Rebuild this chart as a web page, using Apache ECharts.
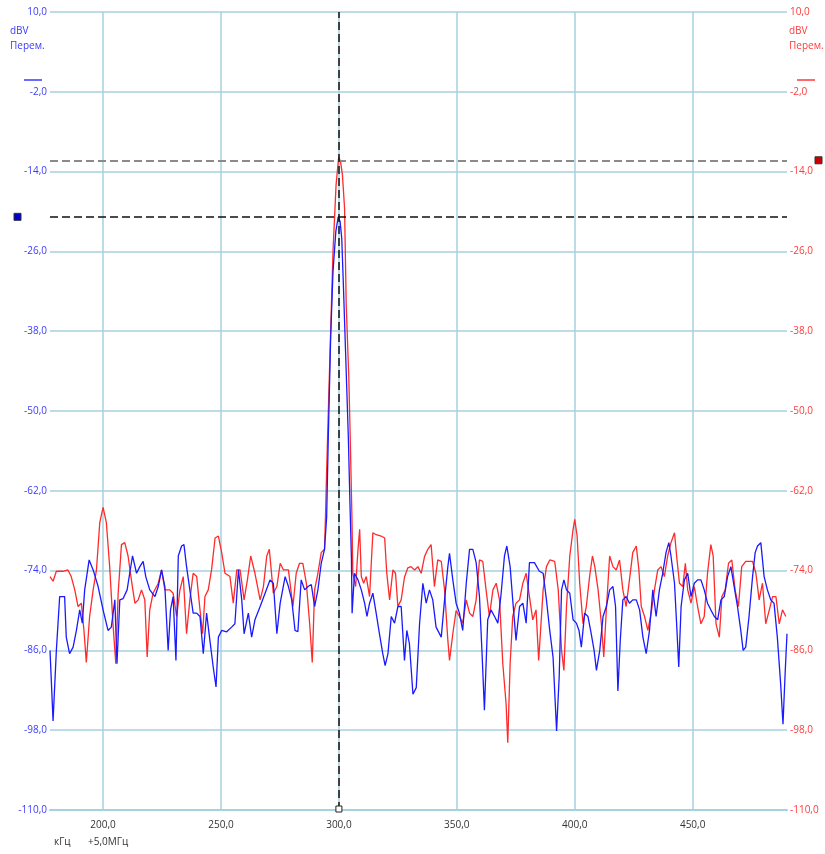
<!DOCTYPE html>
<html>
<head>
<meta charset="utf-8">
<script src="https://cdn.jsdelivr.net/npm/echarts@6/dist/echarts.min.js"></script>
<style>
html,body{margin:0;padding:0;background:#fff;}
#chart{width:825px;height:854px;}
</style>
</head>
<body>
<div id="chart"></div>
<script>
// ---- Data (kHz offset from 5,0 MHz ; dBV) ----
const freqBlue = [177.5,178.8,180.2,181.6,183.7,184.4,185.8,187.3,188.7,190.1,191.2,192.2,194.1,195.8,197.9,200.0,202.1,203.5,205.0,205.9,207.1,208.5,210.2,211.3,212.5,214.2,215.6,217.0,218.1,219.8,222.0,223.4,224.8,226.2,227.6,228.6,229.7,230.9,231.9,233.3,234.3,235.4,236.8,238.2,239.7,241.1,242.5,243.9,245.3,246.7,247.9,248.9,250.3,252.4,254.5,255.9,257.4,258.8,259.8,261.6,263.0,264.4,266.6,268.7,270.8,272.2,273.7,275.1,277.2,278.6,280.0,281.4,282.6,284.0,285.5,286.9,288.3,289.7,291.1,292.5,293.9,294.8,295.5,296.5,297.5,298.7,299.7,300.5,301.2,301.8,303.0,304.0,304.7,305.3,305.6,306.6,308.1,309.5,310.9,311.9,313.0,314.4,315.8,317.2,318.6,319.6,320.8,322.2,323.6,325.0,326.4,327.8,328.8,329.9,331.4,332.8,334.2,335.6,337.0,338.4,339.8,341.2,343.4,344.8,346.2,346.9,348.3,349.7,351.1,352.5,354.0,355.4,356.8,358.2,359.6,360.7,361.7,363.1,364.5,366.0,367.4,368.8,370.2,371.2,372.6,373.7,375.1,376.6,378.0,379.4,380.8,382.9,385.0,386.6,388.0,389.4,390.8,392.3,393.4,394.4,395.4,396.5,397.9,399.3,400.7,401.8,402.8,404.2,405.6,407.0,408.2,409.2,410.6,412.0,413.4,414.8,416.2,417.3,418.3,419.3,420.4,421.8,423.2,424.6,426.1,427.5,428.9,430.3,431.7,433.1,434.5,435.9,437.3,438.7,439.9,440.8,442.3,443.2,444.1,445.1,446.5,447.9,449.3,450.7,452.1,453.5,454.9,456.3,457.7,459.2,460.6,462.0,463.4,464.8,466.2,467.6,469.0,470.4,471.4,472.5,473.9,475.4,476.5,477.5,478.9,480.3,481.7,483.1,484.5,485.9,487.3,488.3,489.2,490.0];
const dbvBlue = [-86.0,-96.6,-86.0,-77.9,-77.9,-84.0,-86.5,-85.5,-83.0,-79.9,-81.9,-76.9,-72.4,-73.9,-76.4,-79.9,-83.0,-82.5,-78.4,-88.0,-78.4,-78.2,-76.9,-74.4,-71.8,-74.4,-73.4,-72.6,-74.9,-76.9,-77.9,-76.4,-73.9,-76.4,-86.0,-79.9,-77.9,-87.5,-71.8,-70.3,-70.1,-73.4,-76.9,-80.4,-80.4,-80.9,-86.5,-80.4,-84.5,-88.5,-91.5,-84.0,-83.0,-83.2,-82.5,-82.0,-73.9,-78.4,-83.5,-80.4,-84.0,-81.4,-79.4,-77.4,-75.4,-75.9,-83.5,-78.9,-74.9,-76.4,-78.4,-83.0,-83.2,-75.4,-76.9,-76.4,-76.1,-79.4,-76.9,-72.9,-70.8,-66.0,-54.0,-39.0,-29.0,-23.0,-20.8,-21.5,-24.0,-30.0,-43.0,-54.0,-64.0,-72.0,-80.4,-74.4,-75.4,-76.9,-78.9,-80.9,-78.9,-77.4,-80.4,-83.5,-86.5,-88.3,-86.5,-80.9,-81.9,-79.4,-79.4,-87.5,-83.0,-85.0,-92.6,-91.6,-82.0,-75.9,-78.9,-76.9,-78.4,-82.5,-84.0,-78.4,-73.4,-71.4,-75.4,-78.9,-80.4,-83.0,-75.9,-70.8,-70.8,-72.8,-77.9,-86.5,-95.0,-81.4,-79.9,-80.9,-81.9,-77.4,-71.8,-70.3,-73.4,-78.4,-84.5,-79.4,-78.9,-81.9,-72.8,-72.8,-74.1,-74.4,-78.4,-83.0,-87.0,-98.1,-90.0,-76.9,-75.4,-76.9,-77.4,-81.4,-81.9,-83.0,-85.5,-80.4,-80.9,-83.5,-86.0,-89.0,-86.0,-80.9,-79.4,-76.9,-76.4,-79.4,-92.1,-84.5,-78.4,-77.9,-78.9,-78.4,-78.4,-79.9,-84.0,-86.5,-83.0,-76.9,-80.9,-76.9,-74.4,-71.3,-69.8,-71.8,-75.9,-82.0,-88.5,-79.4,-75.4,-74.4,-77.9,-75.9,-75.4,-75.4,-76.9,-78.9,-79.9,-80.9,-81.4,-78.4,-77.9,-74.9,-73.4,-76.4,-79.4,-83.0,-86.0,-85.5,-80.9,-74.9,-71.3,-70.3,-69.8,-74.9,-76.9,-78.4,-78.9,-84.0,-91.0,-97.1,-89.5,-83.5];

const freqRed = [177.5,178.8,180.2,183.0,185.1,186.5,188.0,189.4,190.8,191.9,192.9,194.3,195.8,197.2,198.6,200.0,201.4,202.8,204.2,205.4,206.4,207.8,209.2,210.6,212.0,213.5,214.9,216.3,217.7,218.7,219.8,221.2,223.4,224.8,226.2,228.3,229.7,231.2,232.6,234.0,235.4,236.8,238.2,239.7,241.1,242.2,243.2,244.6,246.0,247.5,248.9,250.3,251.7,253.8,255.2,256.7,258.1,259.8,261.2,262.6,264.4,266.6,268.0,269.4,270.5,272.2,273.7,275.1,276.5,278.6,280.5,281.9,283.3,284.7,286.2,287.6,288.7,289.7,291.1,292.5,293.9,294.3,294.8,295.6,296.5,297.5,298.8,299.9,300.7,301.5,302.4,303.1,304.2,304.8,305.5,305.9,307.1,308.1,308.8,309.5,310.5,311.6,313.0,314.4,315.8,317.9,319.4,320.3,321.5,322.9,324.0,325.0,326.4,327.8,329.2,330.6,332.1,333.5,334.9,336.3,337.7,339.1,340.5,341.9,343.4,344.8,346.2,346.9,348.3,349.7,351.1,352.5,354.0,355.4,356.8,358.2,359.6,361.0,362.4,363.8,365.3,366.7,368.1,369.5,370.9,371.6,372.6,373.7,375.1,376.6,378.0,379.4,380.8,382.2,383.6,384.7,386.6,388.0,389.4,391.5,393.0,394.4,395.4,396.5,397.9,399.3,400.0,401.0,402.1,403.5,404.9,406.3,407.5,408.5,409.9,411.3,412.3,413.4,414.8,416.2,417.6,419.0,420.4,421.8,423.2,424.6,426.1,427.2,428.2,429.6,431.0,432.4,433.8,435.2,436.6,438.0,439.4,440.8,442.3,443.2,444.4,445.8,446.9,447.9,449.3,450.7,452.1,453.5,454.9,456.3,457.7,458.7,459.9,461.3,462.4,463.8,465.2,466.6,468.0,469.4,470.8,472.5,475.4,476.8,478.2,479.6,481.0,482.5,483.9,485.3,486.7,488.1,489.5];
const dbvRed = [-74.9,-75.6,-74.1,-74.1,-73.9,-74.9,-76.9,-79.4,-78.9,-83.0,-87.8,-80.9,-76.9,-73.9,-66.8,-64.5,-66.8,-73.4,-82.0,-88.0,-77.4,-70.1,-69.8,-71.8,-75.4,-78.9,-78.4,-76.9,-78.4,-87.0,-79.9,-77.4,-75.9,-73.9,-76.9,-76.9,-77.4,-80.9,-76.9,-74.9,-83.5,-78.4,-74.4,-74.9,-79.9,-83.5,-77.9,-76.9,-73.9,-69.1,-68.8,-71.3,-74.4,-74.9,-78.9,-73.9,-73.9,-78.4,-75.4,-71.8,-74.4,-78.4,-76.4,-71.8,-70.8,-77.4,-76.4,-72.9,-73.9,-73.9,-79.4,-74.4,-72.9,-72.9,-75.9,-82.0,-87.8,-76.9,-74.4,-71.3,-70.8,-66.0,-59.0,-49.0,-38.0,-26.0,-16.0,-11.8,-12.5,-14.5,-19.5,-34.0,-45.0,-54.0,-65.5,-74.4,-76.4,-70.8,-67.8,-74.9,-75.9,-74.9,-77.9,-68.3,-68.6,-68.8,-69.1,-74.4,-78.4,-73.9,-74.4,-79.4,-78.4,-75.0,-73.6,-73.4,-73.9,-73.4,-74.4,-71.9,-70.8,-70.1,-76.4,-72.4,-72.6,-76.9,-84.5,-87.5,-83.5,-80.0,-80.9,-81.9,-78.4,-80.4,-80.9,-78.4,-72.4,-72.6,-76.9,-80.9,-76.9,-75.9,-78.4,-88.0,-94.1,-99.9,-88.0,-80.9,-78.9,-78.4,-75.9,-74.4,-77.9,-81.4,-79.9,-87.5,-76.9,-73.4,-72.4,-72.6,-76.9,-86.0,-89.0,-79.4,-71.8,-67.8,-66.3,-68.8,-75.9,-82.0,-79.4,-74.9,-71.8,-73.4,-76.9,-82.0,-87.0,-79.9,-71.8,-73.4,-73.9,-72.4,-76.9,-79.4,-75.4,-71.3,-70.3,-73.9,-79.4,-80.9,-83.0,-80.4,-76.9,-73.9,-73.4,-74.9,-71.8,-69.8,-68.3,-71.8,-75.9,-76.4,-72.9,-76.9,-78.9,-76.4,-79.4,-82.0,-80.9,-74.4,-70.1,-71.8,-82.0,-84.0,-77.9,-76.9,-72.9,-72.4,-76.9,-79.4,-73.4,-72.6,-72.6,-74.4,-78.4,-75.9,-82.0,-79.9,-77.9,-77.9,-82.0,-79.9,-80.9];

// markers
const markerFreq = 300.0;      // vertical cursor, kHz
const markerRedLevel = -12.3;  // dBV (grey dashed, red marker)
const markerBlueLevel = -20.8; // dBV (black dashed, blue marker)

// axis labels/texts
const yAxisUnit = 'dBV';
const yAxisMode = 'Перем.';
const xUnit = 'кГц';
const xOffset = '+5,0МГц';

const fmt = v => v.toFixed(1).replace('.', ',');
const zip = (xs, ys) => xs.map((x, i) => [x, ys[i]]);

const FONT = '"Open Sans", "Noto Sans", sans-serif';
const GRID = '#a6d1e1';

const chart = echarts.init(document.getElementById('chart'), null, {renderer: 'canvas'});

const option = {
  animation: false,
  backgroundColor: '#ffffff',
  grid: {left: 50, right: 38, top: 12, bottom: 44, containLabel: false},
  xAxis: {
    type: 'value', min: 177.5, max: 490, splitNumber: 5,
    axisLine: {show: true, onZero: false, lineStyle: {color: GRID, width: 2}},
    axisTick: {show: false},
    axisLabel: {color: '#333', fontFamily: FONT, fontSize: 10, margin: 10,
      showMinLabel: false, showMaxLabel: false, formatter: v => fmt(v)},
    splitLine: {show: true, showMinLine: false, showMaxLine: false, lineStyle: {color: GRID, width: 1.5}}
  },
  yAxis: [
    {
      type: 'value', min: -110, max: 10, interval: 12, position: 'left',
      axisLine: {show: false}, axisTick: {show: false},
      axisLabel: {color: '#3a3aff', fontFamily: FONT, fontSize: 10, margin: 3, formatter: v => fmt(v)},
      splitLine: {show: true, lineStyle: {color: GRID, width: 1.5}}
    },
    {
      type: 'value', min: -110, max: 10, interval: 12, position: 'right',
      axisLine: {show: false}, axisTick: {show: false},
      axisLabel: {color: '#ff3a3a', fontFamily: FONT, fontSize: 10, margin: 3, formatter: v => fmt(v)},
      splitLine: {show: false}
    }
  ],
  series: [
    {
      name: 'red', type: 'line', yAxisIndex: 1, data: zip(freqRed, dbvRed),
      showSymbol: false, symbol: 'none', lineStyle: {color: '#ff2a2a', width: 1.3}, z: 2
    },
    {
      name: 'blue', type: 'line', yAxisIndex: 0, data: zip(freqBlue, dbvBlue),
      showSymbol: false, symbol: 'none', lineStyle: {color: '#1a1aff', width: 1.3}, z: 3,
      markLine: {
        silent: true, symbol: 'none', label: {show: false},
        data: [
          {yAxis: markerRedLevel, lineStyle: {color: '#8a8a8a', width: 2, type: [8, 4]}},
          {yAxis: markerBlueLevel, lineStyle: {color: '#111', width: 1.5, type: [8, 4]}},
          {xAxis: markerFreq, lineStyle: {color: '#111', width: 1.5, type: [8, 4]}}
        ]
      }
    }
  ]
};
chart.setOption(option);

const yRed = chart.convertToPixel({yAxisIndex: 1}, markerRedLevel);
const yBlue = chart.convertToPixel({yAxisIndex: 0}, markerBlueLevel);
const xCur = chart.convertToPixel({xAxisIndex: 0}, markerFreq);
const yBottom = chart.convertToPixel({yAxisIndex: 0}, -110);

chart.setOption({
  graphic: [
    {type: 'text', left: 10, top: 26, style: {text: yAxisUnit, fill: '#3a3aff', font: '10px ' + FONT}},
    {type: 'text', left: 10, top: 41, style: {text: yAxisMode, fill: '#3a3aff', font: '10px ' + FONT}},
    {type: 'line', shape: {x1: 24, y1: 80, x2: 42, y2: 80}, style: {stroke: '#3a3aff', lineWidth: 1.5}},
    {type: 'text', left: 789, top: 26, style: {text: yAxisUnit, fill: '#ff3a3a', font: '10px ' + FONT}},
    {type: 'text', left: 789, top: 41, style: {text: yAxisMode, fill: '#ff3a3a', font: '10px ' + FONT}},
    {type: 'line', shape: {x1: 797, y1: 80, x2: 815, y2: 80}, style: {stroke: '#ff3a3a', lineWidth: 1.5}},
    {type: 'text', left: 54, top: 837, style: {text: xUnit, fill: '#333', font: '10px ' + FONT}},
    {type: 'text', left: 88, top: 837, style: {text: xOffset, fill: '#333', font: '10px ' + FONT}},
    {type: 'rect', shape: {x: 14, y: yBlue - 3.5, width: 7, height: 7}, style: {fill: '#0000cc', stroke: '#333', lineWidth: 1}},
    {type: 'rect', shape: {x: 815, y: yRed - 3.5, width: 7, height: 7}, style: {fill: '#cc0000', stroke: '#333', lineWidth: 1}},
    {type: 'rect', shape: {x: xCur - 3, y: yBottom - 4, width: 6, height: 6}, style: {fill: '#fff', stroke: '#222', lineWidth: 1}, z: 10}
  ]
});
</script>
</body>
</html>
